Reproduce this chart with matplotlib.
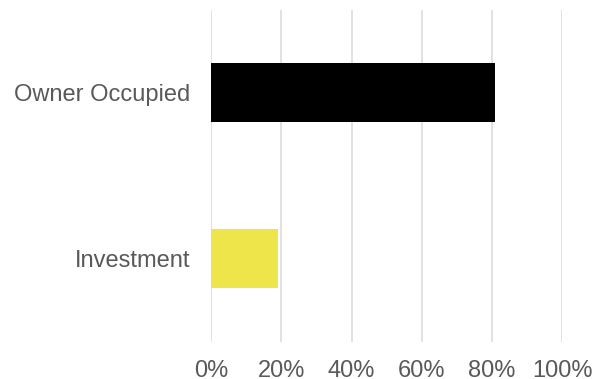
import matplotlib
matplotlib.use("Agg")
import matplotlib.pyplot as plt
from matplotlib.ticker import PercentFormatter

categories = ["Investment", "Owner Occupied"]
shares = [19, 81]
bar_colors = ["#EDE54A", "#000000"]
x_ticks = [0, 20, 40, 60, 80, 100]

plt.rcParams["font.family"] = ["Liberation Sans", "DejaVu Sans"]

fig = plt.figure(figsize=(5.93, 3.79), dpi=100)
ax = fig.add_axes([211.3 / 593, 1 - 341.7 / 379, (562 - 211.3) / 593, (341.7 - 10) / 379])

ypos = list(range(len(categories)))
ax.barh(ypos, shares, height=0.355, color=bar_colors, zorder=3)

ax.set_xlim(0, 100)
ax.set_ylim(-0.5, len(categories) - 0.5)
ax.set_xticks(x_ticks)
ax.xaxis.set_major_formatter(PercentFormatter(decimals=0))
ax.set_yticks(ypos)
ax.set_yticklabels(categories)

ax.grid(axis="x", color="#D9D9D9", linewidth=1.1, zorder=0)
for s in ax.spines.values():
    s.set_visible(False)
ax.tick_params(axis="both", length=0, colors="#595959", labelsize=17)
ax.tick_params(axis="x", pad=13)
ax.tick_params(axis="y", pad=15)

fig.savefig("out.png", dpi=100)
